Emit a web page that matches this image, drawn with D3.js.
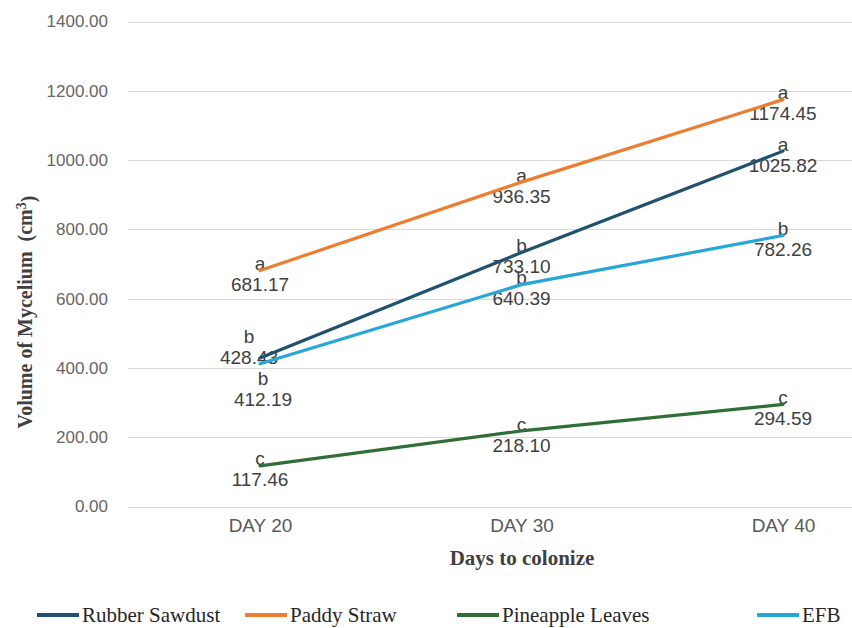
<!DOCTYPE html>
<html>
<head>
<meta charset="utf-8">
<script src="https://cdn.jsdelivr.net/npm/d3@7"></script>
<style>
  html, body { margin: 0; padding: 0; background: #ffffff; }
  svg { display: block; }
  .serif { font-family: "Liberation Serif", "Times New Roman", serif; }
  .sans { font-family: "Liberation Sans", Arial, sans-serif; }
</style>
</head>
<body>
<svg id="chart" width="852" height="628"></svg>
<script>
// ---- data ----
const categories = ["DAY 20", "DAY 30", "DAY 40"];
const seriesNames = ["Rubber Sawdust", "Paddy Straw", "Pineapple Leaves", "EFB"];
const rubberSawdust = [428.43, 733.10, 1025.82];
const paddyStraw = [681.17, 936.35, 1174.45];
const pineappleLeaves = [117.46, 218.10, 294.59];
const efb = [412.19, 640.39, 782.26];
const rubberLetters = ["b", "b", "a"];
const paddyLetters = ["a", "a", "a"];
const pineappleLetters = ["c", "c", "c"];
const efbLetters = ["b", "b", "b"];
const yTicks = [0, 200, 400, 600, 800, 1000, 1200, 1400];

const seriesValues = [rubberSawdust, paddyStraw, pineappleLeaves, efb];
const seriesLetters = [rubberLetters, paddyLetters, pineappleLetters, efbLetters];
const colors = ["#22516f", "#ed7d31", "#2f6e37", "#27a6d8"];

const series = seriesNames.map((name, i) => ({
  name, color: colors[i],
  points: categories.map((c, j) => ({ cat: c, value: seriesValues[i][j], letter: seriesLetters[i][j], j }))
}));

const svg = d3.select("#chart");

const y = d3.scaleLinear().domain([0, 1400]).range([506.5, 21.5]);
const x = d3.scalePoint().domain(categories).range([260, 783]);

// gridlines
svg.append("g").selectAll("line").data(yTicks).join("line")
  .attr("x1", 128).attr("x2", 852)
  .attr("y1", d => Math.round(y(d)) + 0.5).attr("y2", d => Math.round(y(d)) + 0.5)
  .attr("stroke", "#d9d9d9").attr("stroke-width", 1);

// y axis labels
const yAxis = svg.append("g").attr("transform", "translate(110,0)")
  .call(d3.axisLeft(y).tickValues(yTicks).tickSize(0).tickPadding(2).tickFormat(d3.format(".2f")));
yAxis.select(".domain").remove();
yAxis.selectAll("text").attr("class", "sans").attr("font-family", null)
  .attr("font-size", 17).attr("fill", "#666666");

// x axis labels
const xAxis = svg.append("g").attr("transform", "translate(0,516)")
  .call(d3.axisBottom(x).tickSize(0).tickPadding(2));
xAxis.select(".domain").remove();
xAxis.selectAll("text").attr("class", "sans").attr("font-family", null)
  .attr("font-size", 19).attr("fill", "#595959");

// data labels (drawn beneath lines)
const labelShift = { "Rubber Sawdust-0": [-11, -15], "EFB-0": [3, 22] };
const lblG = svg.append("g").attr("class", "sans")
  .attr("font-size", 19).attr("fill", "#404040").attr("text-anchor", "middle");
series.forEach(s => {
  s.points.forEach(p => {
    const sh = labelShift[s.name + "-" + p.j] || [0, 0];
    const px = x(p.cat) + sh[0], py = y(p.value) + sh[1];
    lblG.append("text").attr("x", px).attr("y", py - 7).attr("dy", "0.35em").text(p.letter);
    lblG.append("text").attr("x", px).attr("y", py + 14).attr("dy", "0.35em").text(d3.format(".2f")(p.value));
  });
});

// lines
const line = d3.line().x(d => x(d.cat)).y(d => y(d.value));
svg.append("g").selectAll("path").data(series).join("path")
  .attr("d", d => line(d.points))
  .attr("fill", "none").attr("stroke", d => d.color)
  .attr("stroke-width", 3.2).attr("stroke-linecap", "round");

// axis titles
svg.append("text").attr("class", "serif").attr("x", 522).attr("y", 558).attr("dy", "0.35em")
  .attr("text-anchor", "middle")
  .attr("font-weight", "bold").attr("font-size", 21).attr("fill", "#404040")
  .text("Days to colonize");

const yt = svg.append("text").attr("class", "serif").attr("transform", "translate(25,312) rotate(-90)")
  .attr("dy", "0.35em").attr("text-anchor", "middle")
  .attr("font-weight", "bold").attr("font-size", 20).attr("fill", "#404040");
yt.append("tspan").text("Volume of Mycelium\u00a0 (cm");
yt.append("tspan").attr("dy", "-0.45em").attr("font-size", 14).text("3");
yt.append("tspan").attr("dy", "0.45em").text(")");

// legend
const legendX = [37, 245, 457, 757];
const legend = svg.append("g");
series.forEach((s, i) => {
  const lx = legendX[i];
  legend.append("line").attr("x1", lx).attr("x2", lx + 42).attr("y1", 615).attr("y2", 615)
    .attr("stroke", s.color).attr("stroke-width", 4);
  legend.append("text").attr("class", "serif").attr("x", lx + 45).attr("y", 622)
    .attr("font-size", 21).attr("fill", "#262626").text(s.name);
});
</script>
</body>
</html>
